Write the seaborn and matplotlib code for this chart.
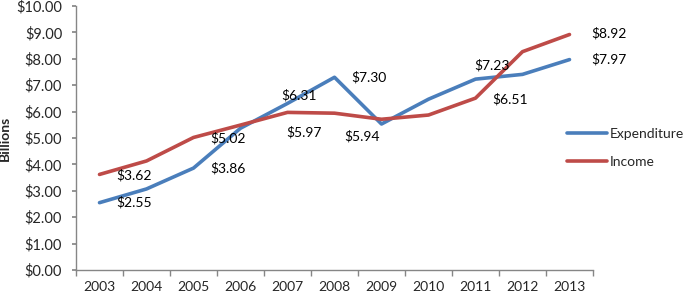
import numpy as np
import pandas as pd
import matplotlib
matplotlib.use("Agg")
import matplotlib.pyplot as plt
import seaborn as sns
from matplotlib.ticker import FuncFormatter, MultipleLocator
from matplotlib.lines import Line2D

years = [2003, 2004, 2005, 2006, 2007, 2008, 2009, 2010, 2011, 2012, 2013]
expenditure = [2.55, 3.07, 3.86, 5.37, 6.31, 7.30, 5.53, 6.47, 7.23, 7.41, 7.97]
income = [3.62, 4.13, 5.02, 5.49, 5.97, 5.94, 5.71, 5.87, 6.51, 8.27, 8.92]

# which points carry a data label, and where (offset in pixels)
exp_labels = {2003: (17, 0, "left"), 2005: (17, 0, "left"), 2007: (12, 8, "center"),
              2008: (17, 0, "left"), 2011: (16, 14, "center"), 2013: (22, 0, "left")}
inc_labels = {2003: (17, -1, "left"), 2005: (17, -1, "left"), 2007: (16, -20, "center"),
              2008: (28, -23, "center"), 2011: (17, -1, "left"), 2013: (22, 1, "left")}

df = pd.DataFrame({
    "year": years * 2,
    "value": expenditure + income,
    "series": ["Expenditure"] * len(years) + ["Income"] * len(years),
})

sns.set_theme(style="white")
plt.rcParams["font.family"] = ["Lato", "DejaVu Sans"]

fig = plt.figure(figsize=(6.85, 2.96), dpi=100)
ax = fig.add_axes([76 / 685, 1 - 270 / 296, (593 - 76) / 685, 264 / 296])

colors = {"Expenditure": "#4A7EBB", "Income": "#BE4B48"}
sns.lineplot(data=df, x="year", y="value", hue="series", palette=colors,
             linewidth=2.6, ax=ax, legend=False)

for vals, labs in [(expenditure, exp_labels), (income, inc_labels)]:
    for yr, v in zip(years, vals):
        if yr in labs:
            dx, dy, ha = labs[yr]
            ax.annotate(f"${v:.2f}", (yr, v), xytext=(dx * 0.72, dy * 0.72),
                        textcoords="offset points", ha=ha, va="center",
                        fontsize=10, color="black")

ax.set_xlim(2002.5, 2013.5)
ax.set_ylim(0, 10)
ax.set_xticks(years)
ax.xaxis.set_minor_locator(MultipleLocator(1, offset=0.5))
ax.tick_params(axis="x", which="major", length=0, labelsize=10, pad=8)
ax.tick_params(axis="x", which="minor", length=4, color="#868686", direction="out", bottom=True)
ax.yaxis.set_major_locator(MultipleLocator(1))
ax.yaxis.set_major_formatter(FuncFormatter(lambda v, p: f"${v:.2f}"))
ax.tick_params(axis="y", length=3, color="#868686", direction="out", left=True,
               labelsize=10.5, pad=7)

for s in ["top", "right"]:
    ax.spines[s].set_visible(False)
for s in ["left", "bottom"]:
    ax.spines[s].set_color("#868686")
    ax.spines[s].set_linewidth(1.0)

ax.set_xlabel("")
ax.set_ylabel("Billions", fontsize=10, fontweight="bold", labelpad=4)

handles = [Line2D([], [], color=colors[k], linewidth=2.6) for k in ["Expenditure", "Income"]]
fig.legend(handles, ["Expenditure", "Income"], loc="center left",
           bbox_to_anchor=(567 / 685, 1 - 148 / 296), frameon=False,
           fontsize=10, handlelength=2.9, handletextpad=0.2, labelspacing=1.2,
           borderpad=0, borderaxespad=0)

fig.savefig("out.png", dpi=100)
